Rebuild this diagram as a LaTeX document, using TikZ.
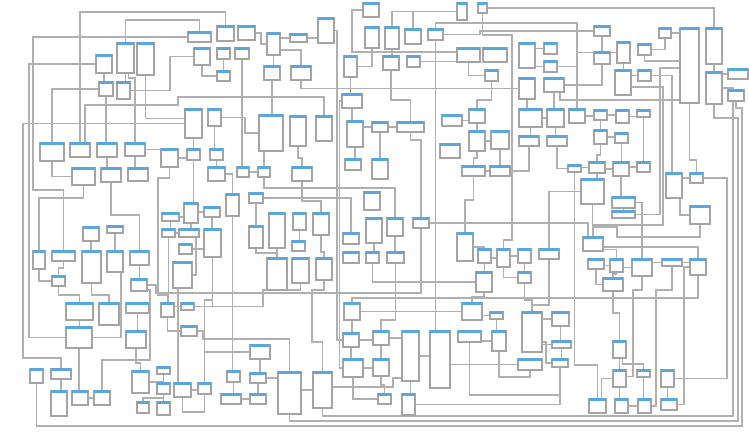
\documentclass[tikz,border=0pt]{standalone}
\usetikzlibrary{calc}
\definecolor{hdrblue}{HTML}{5AA6DE}
\definecolor{boxgray}{HTML}{A4A4A4}
\definecolor{linegray}{HTML}{B0B0B0}
\pgfdeclarelayer{bg}
\pgfsetlayers{bg,main}
\tikzset{
  bx/.style={draw=boxgray, line width=1.3pt, fill=white, inner sep=0pt, outer sep=0pt},
  hdr/.style={fill=hdrblue},
  cn/.style={draw=linegray, line width=1.3pt},
}
\newcommand\mybox[4]{%
  \node[bx, minimum width=#3pt, minimum height=#4pt] (b#1y#2) at ({#1+#3/2},{#2+#4/2}) {};
  \fill[hdr] ([yshift=0.7pt]b#1y#2.north west) rectangle ([yshift=-2.3pt]b#1y#2.north east);}
\begin{document}
\begin{tikzpicture}[x=1pt,y=-1pt]
\useasboundingbox (0,0) rectangle (749,433);
% ---------- boxes ----------
\mybox{188}{32}{23}{10}
\mybox{217}{26}{17}{15}
\mybox{238}{26}{17}{14}
\mybox{117}{43}{17}{30}
\mybox{137}{43}{17}{32}
\mybox{96}{55}{16}{18}
\mybox{194}{48}{16}{17}
\mybox{217}{48}{13}{11}
\mybox{235}{48}{14}{11}
\mybox{217}{71}{13}{10}
\mybox{99}{82}{14}{14}
\mybox{117}{82}{13}{17}
\mybox{185}{109}{17}{29}
\mybox{208}{109}{13}{17}
\mybox{40}{143}{24}{18}
\mybox{70}{143}{20}{14}
\mybox{97}{143}{20}{14}
\mybox{125}{143}{20}{13}
\mybox{161}{149}{17}{18}
\mybox{187}{149}{13}{11}
\mybox{210}{149}{13}{11}
\mybox{72}{168}{23}{17}
\mybox{101}{168}{20}{14}
\mybox{128}{168}{20}{13}
\mybox{208}{167}{17}{14}
\mybox{237}{167}{12}{10}
\mybox{258}{167}{12}{10}
\mybox{292}{167}{20}{14}
\mybox{267}{33}{13}{22}
\mybox{290}{34}{17}{8}
\mybox{318}{18}{16}{25}
\mybox{264}{66}{16}{14}
\mybox{291}{66}{20}{14}
\mybox{363}{3}{16}{14}
\mybox{457}{3}{10}{17}
\mybox{478}{3}{9}{10}
\mybox{365}{27}{14}{21}
\mybox{385}{27}{14}{22}
\mybox{405}{29}{16}{15}
\mybox{428}{29}{15}{11}
\mybox{457}{48}{23}{14}
\mybox{483}{48}{24}{14}
\mybox{485}{70}{13}{11}
\mybox{344}{56}{13}{21}
\mybox{383}{56}{16}{14}
\mybox{407}{56}{13}{11}
\mybox{342}{94}{20}{14}
\mybox{259}{115}{24}{36}
\mybox{290}{116}{16}{30}
\mybox{316}{116}{16}{25}
\mybox{347}{121}{16}{26}
\mybox{372}{122}{16}{10}
\mybox{397}{122}{27}{10}
\mybox{442}{115}{20}{11}
\mybox{469}{109}{16}{14}
\mybox{469}{131}{16}{20}
\mybox{491}{131}{18}{18}
\mybox{440}{144}{20}{14}
\mybox{345}{159}{16}{11}
\mybox{372}{159}{16}{20}
\mybox{462}{166}{23}{10}
\mybox{490}{166}{20}{10}
\mybox{519}{43}{16}{25}
\mybox{544}{43}{13}{11}
\mybox{544}{61}{13}{11}
\mybox{594}{26}{16}{10}
\mybox{594}{52}{16}{12}
\mybox{617}{42}{13}{21}
\mybox{638}{44}{13}{11}
\mybox{659}{28}{12}{10}
\mybox{680}{28}{19}{75}
\mybox{706}{28}{16}{36}
\mybox{706}{72}{16}{32}
\mybox{728}{69}{20}{10}
\mybox{728}{90}{16}{11}
\mybox{519}{78}{16}{21}
\mybox{544}{78}{20}{14}
\mybox{615}{70}{16}{25}
\mybox{638}{70}{13}{11}
\mybox{519}{109}{23}{18}
\mybox{547}{109}{17}{18}
\mybox{569}{109}{16}{14}
\mybox{594}{110}{13}{10}
\mybox{616}{110}{13}{13}
\mybox{637}{110}{13}{7}
\mybox{594}{130}{13}{14}
\mybox{615}{133}{13}{10}
\mybox{519}{136}{20}{10}
\mybox{547}{136}{20}{10}
\mybox{568}{165}{13}{7}
\mybox{589}{162}{16}{11}
\mybox{613}{162}{16}{14}
\mybox{637}{162}{13}{10}
\mybox{581}{179}{23}{25}
\mybox{612}{197}{23}{11}
\mybox{612}{211}{23}{7}
\mybox{666}{173}{16}{25}
\mybox{690}{173}{13}{10}
\mybox{690}{206}{20}{18}
\mybox{583}{237}{20}{14}
\mybox{588}{259}{16}{10}
\mybox{610}{259}{13}{13}
\mybox{632}{259}{20}{17}
\mybox{662}{259}{20}{7}
\mybox{690}{259}{16}{16}
\mybox{603}{278}{20}{13}
\mybox{184}{203}{14}{20}
\mybox{204}{207}{16}{10}
\mybox{162}{213}{17}{8}
\mybox{162}{229}{13}{8}
\mybox{179}{229}{20}{8}
\mybox{204}{229}{17}{28}
\mybox{179}{244}{13}{10}
\mybox{173}{262}{19}{26}
\mybox{226}{194}{13}{22}
\mybox{83}{227}{16}{14}
\mybox{107}{226}{16}{7}
\mybox{249}{193}{14}{10}
\mybox{249}{226}{14}{22}
\mybox{269}{213}{16}{35}
\mybox{293}{213}{13}{17}
\mybox{313}{213}{16}{22}
\mybox{292}{241}{13}{10}
\mybox{267}{258}{20}{32}
\mybox{292}{258}{17}{25}
\mybox{316}{258}{16}{22}
\mybox{364}{192}{16}{18}
\mybox{343}{233}{16}{11}
\mybox{366}{218}{16}{25}
\mybox{387}{218}{16}{18}
\mybox{413}{218}{16}{10}
\mybox{343}{252}{16}{11}
\mybox{366}{252}{13}{11}
\mybox{387}{252}{17}{11}
\mybox{457}{233}{16}{28}
\mybox{478}{249}{13}{14}
\mybox{497}{249}{13}{18}
\mybox{518}{249}{13}{14}
\mybox{539}{249}{20}{10}
\mybox{476}{272}{16}{20}
\mybox{518}{272}{13}{11}
\mybox{33}{251}{12}{18}
\mybox{52}{251}{23}{10}
\mybox{82}{251}{19}{32}
\mybox{107}{251}{16}{21}
\mybox{130}{251}{19}{14}
\mybox{52}{276}{13}{10}
\mybox{131}{279}{16}{12}
\mybox{66}{303}{27}{17}
\mybox{99}{303}{20}{22}
\mybox{126}{303}{23}{10}
\mybox{161}{303}{13}{14}
\mybox{181}{303}{13}{7}
\mybox{181}{326}{16}{10}
\mybox{66}{327}{26}{21}
\mybox{126}{331}{20}{17}
\mybox{30}{369}{13}{14}
\mybox{51}{369}{20}{10}
\mybox{132}{371}{17}{22}
\mybox{157}{367}{13}{7}
\mybox{157}{383}{13}{11}
\mybox{174}{383}{17}{14}
\mybox{198}{383}{13}{11}
\mybox{227}{371}{13}{11}
\mybox{221}{394}{20}{10}
\mybox{51}{391}{16}{25}
\mybox{72}{391}{16}{14}
\mybox{94}{391}{16}{14}
\mybox{137}{402}{12}{11}
\mybox{157}{402}{13}{13}
\mybox{250}{345}{20}{14}
\mybox{250}{373}{16}{10}
\mybox{250}{394}{16}{10}
\mybox{278}{372}{23}{42}
\mybox{313}{372}{19}{36}
\mybox{344}{303}{16}{17}
\mybox{343}{333}{16}{14}
\mybox{343}{359}{20}{18}
\mybox{373}{331}{16}{14}
\mybox{373}{359}{16}{17}
\mybox{402}{331}{17}{50}
\mybox{430}{331}{20}{57}
\mybox{458}{331}{23}{11}
\mybox{462}{303}{20}{17}
\mybox{490}{312}{13}{7}
\mybox{492}{331}{14}{20}
\mybox{378}{394}{13}{10}
\mybox{402}{394}{13}{21}
\mybox{522}{312}{20}{40}
\mybox{552}{312}{17}{14}
\mybox{552}{341}{19}{7}
\mybox{518}{359}{24}{11}
\mybox{552}{359}{16}{8}
\mybox{613}{341}{13}{17}
\mybox{613}{370}{13}{17}
\mybox{637}{370}{13}{7}
\mybox{661}{370}{13}{17}
\mybox{589}{399}{17}{14}
\mybox{615}{399}{13}{14}
\mybox{638}{399}{13}{14}
\mybox{661}{399}{16}{11}
% ---------- connectors ----------
\begin{pgfonlayer}{bg}
\fill[white] (0,0) rectangle (749,433);
\draw[cn] (b70y143.north) -- (80,12) -- (225.5,12) -- (b217y26.north);
\draw[cn] (b117y43.north) -- ++(0,-23) -| (b188y32.north);
\draw[cn] (b188y32.west) -| (33,190) -| (b52y251.north);
\draw[cn] (b96y55.west) -| ([xshift=-37pt]b66y327.west) -- (b66y327.west);
\draw[cn] (b40y143.north) |- (b99y82.west);
\draw[cn] ([xshift=5pt]b70y143.north) -- (85,105) -- (178,105) -- (178,97) -- (324,97) -- (b316y116.north);
\draw[cn] (b117y82.east) -- (170,90.5) |- (b194y48.west);
\draw[cn] ([xshift=3pt]b117y43.south) -- (128.5,78) -- (135,78) -- (b125y143.north);
\draw[cn] (b137y43.south) |- ([yshift=5pt]b185y109.west);
\draw[cn] (b51y369.north) -- (61,358) -- (23,358) -- (23,123.5) -- (b185y109.west);
\draw[cn] (b125y143.east) -- (b161y149.west |- b125y143.east);
\draw[cn] (b217y48.south) -- (b217y71.north);
\draw[cn] (b194y48.south) |- (b217y71.west);
\draw[cn] (b235y48.south) -- (b235y48.south |- b237y167.north);
\draw[cn] (b97y143.south) -- (b97y143.south |- b101y168.north);
\draw[cn] (b238y26.east) -- (261,33) -- (261,44) -- (b267y33.west);
\draw[cn] (b267y33.east |- b290y34.west) -- (b290y34.west);
\draw[cn] (b290y34.east) -- (b318y18.west |- b290y34.east);
\draw[cn] (b318y18.east) -| (337,340) -- (b343y333.west);
\draw[cn] (b267y33.south) -- (b267y33.south |- b264y66.north);
\draw[cn] ([yshift=-6pt]b267y33.east) -| (b291y66.north);
\draw[cn] (b291y66.south) |- (b519y78.west);
\draw[cn] (b363y3.west) -| (352,52) -- ([yshift=3pt]b457y48.west);
\draw[cn] (b385y27.north) |- (b457y3.west);
\draw[cn] (b405y29.north) |- (b457y3.west);
\draw[cn] (b385y27.south) -- (b385y27.south |- b383y56.north);
\draw[cn] (b478y3.east) -| (b706y28.north);
\draw[cn] (b428y29.north) |- (577,23) -- (b569y109.north);
\draw[cn] (b428y29.east) -- (480,34.5) |- (b594y26.west);
\draw[cn] (b519y43.east |- b544y43.west) -- (b544y43.west);
\draw[cn] (b519y43.east |- b544y61.west) -- (b544y61.west);
\draw[cn] (b544y61.east) -| (b569y109.north);
\draw[cn] (b617y42.west) -| (b569y109.north);
\draw[cn] (b594y52.south) |- (b544y78.east);
\draw[cn] (b638y44.south) |- ([yshift=4.5pt]b680y28.west);
\draw[cn] (b659y28.east) -- (b680y28.west |- b659y28.east);
\draw[cn] (b615y70.east |- b638y70.west) -- (b638y70.west);
\draw[cn] (b638y70.east) -| ([xshift=-2pt]b666y173.north);
\draw[cn] (b544y78.south) -- (b544y78.south |- b547y109.north);
\draw[cn] ([xshift=6pt]b544y78.south) |- ([yshift=-34.5pt]b680y28.west);
\draw[cn] (b519y78.south) -- (b519y78.south |- b519y109.north);
\draw[cn] (b519y109.south) -- (b519y109.south |- b519y136.north);
\draw[cn] (b594y110.east) -- (b616y110.west |- b594y110.east);
\draw[cn] (b616y110.east) -- (b637y110.west |- b616y110.east);
\draw[cn] (b594y110.south) -- (b594y110.south |- b594y130.north);
\draw[cn] ([yshift=-2.5pt]b680y28.west) -| (660,214.5) -- (b612y211.east);
\draw[cn] ([yshift=-4.5pt]b615y70.east) -| (663,225) -| (b583y237.north);
\draw[cn] (b706y72.south) -- (714,118) -- (738,118) -- (738,421) -- (289.5,421) -- (b278y372.south);
\draw[cn] (b30y369.south) -- (36.5,426) -- (742,426) -- (742,108) -- (736,108) -- (b728y90.south);
\draw[cn] (b313y372.south) -- (322.5,416) -- (733,416) -- (733,88) -- (b706y72.east);
\draw[cn] (b568y165.east |- b589y162.west) -- (b589y162.west);
\draw[cn] (b589y162.south) -- (b589y162.south |- b581y179.north);
\draw[cn] (b613y162.east |- b637y162.west) -- (b637y162.west);
\draw[cn] (b613y162.south) -- (b613y162.south |- b612y197.north);
\draw[cn] (b581y179.south) |- (617,227) |- (700,237) -- (b690y206.south);
\draw[cn] (b612y197.east) -| (b632y259.north);
\draw[cn] ([xshift=6pt]b666y173.south) |- (b690y206.west);
\draw[cn] (b690y173.east) -| (727,378.5) -- (b661y370.east);
\draw[cn] ([yshift=-3pt]b583y237.east) -| (b690y259.north);
\draw[cn] ([yshift=-5.5pt]b583y237.east) -| (b610y259.north);
\draw[cn] (b588y259.east |- b610y259.west) -- (b610y259.west);
\draw[cn] (b539y249.south) |- (532,305) -- (b522y312.north);
\draw[cn] (b518y249.south) -- (b518y249.south |- b518y272.north);
\draw[cn] (b40y143.south) |- (b72y168.west);
\draw[cn] (b72y168.south) -- (83.5,198) -- (39,198) -- (b33y251.north);
\draw[cn] (b101y168.south) |- (139.5,215) -- (b130y251.north);
\draw[cn] (b107y226.south) -- (b107y226.south |- b107y251.north);
\draw[cn] (b33y251.south) |- (b52y276.west);
\draw[cn] (b131y279.south) -- (139,290) -- (150,290) -- (150,360) -- (102,360) -- (b94y391.north);
\draw[cn] (b161y149.south) -- (169.5,178) -- (158,178) -- (158,295) -- (167.5,295) -- (b161y303.north);
\draw[cn] (b184y203.south) -- (b184y203.south |- b179y229.north);
\draw[cn] (b204y207.south) -- (b204y207.south |- b204y229.north);
\draw[cn] ([xshift=7pt]b179y229.south) |- (b173y262.east);
\draw[cn] (b179y244.east) -- (b204y229.west |- b179y244.east);
\draw[cn] (b204y229.south) |- (b181y303.east);
\draw[cn] (b204y229.south) -- (212.5,300) -- (204.5,300) -- (b198y383.north);
\draw[cn] (b66y327.south) -- (b66y327.south |- b72y391.north);
\draw[cn] (b82y251.south) |- (109,295) -- (b99y303.north);
\draw[cn] ([xshift=6pt]b107y251.south) |- (b66y327.east);
\draw[cn] (b161y303.south) |- (b181y326.west);
\draw[cn] (b161y303.east |- b181y303.west) -- (b181y303.west);
\draw[cn] (b157y383.south) |- (143,398) -- (b137y402.north);
\draw[cn] (b157y383.south) -- (b157y383.south |- b157y402.north);
\draw[cn] (b174y383.south) |- (204.5,412) -- (b198y383.south);
\draw[cn] (b227y371.south) -- (b227y371.south |- b221y394.north);
\draw[cn] ([xshift=-4.5pt]b173y262.south) -- ([xshift=-4.5pt]b174y383.north);
\draw[cn] (b181y326.east) -- (203,331) |- (289.5,339) -- (b278y372.north);
\draw[cn] (b250y345.south) -- (b250y345.south |- b250y373.north);
\draw[cn] (b250y373.east) -- (b278y372.west |- b250y373.east);
\draw[cn] (b250y373.south) -- (b250y373.south |- b250y394.north);
\draw[cn] (b316y258.south) -- (324,290) -- (312,290) -- (312,342) -- (322.5,342) -- (b313y372.north);
\draw[cn] ([yshift=3pt]b313y372.east) -| (393,378) -- ([yshift=-22pt]b402y331.west);
\draw[cn] (b344y303.east) -- (b462y303.west |- b344y303.east);
\draw[cn] (b373y331.south) -- (b373y331.south |- b373y359.north);
\draw[cn] (b373y359.south) -- (381,385) -- (384.5,385) -- (b378y394.north);
\draw[cn] (b402y331.south) -- (b402y331.south |- b402y394.north);
\draw[cn] (b402y394.east) -| (b552y359.south);
\draw[cn] (b428y29.south) -- ([xshift=-4.5pt]b430y331.north);
\draw[cn] ([yshift=-5pt]b430y331.east) -- (b518y359.west);
\draw[cn] (b458y331.south) |- (560,395) -- (b552y359.south);
\draw[cn] (b568y165.south) -- (574.5,365) -- (597.5,365) -- (b589y399.north);
\draw[cn] (b603y278.south) -- (613,313) -- (619.5,313) -- (b613y341.north);
\draw[cn] (b613y341.south) -- (b613y341.south |- b613y370.north);
\draw[cn] ([xshift=3pt]b613y341.south) |- (643.5,364) -- (b637y370.north);
\draw[cn] (b613y370.south) -- (b613y370.south |- b615y399.north);
\draw[cn] (b613y370.west) -| ([xshift=4pt]b589y399.north);
\draw[cn] ([yshift=2pt]b613y370.east) -| (633,290) -| (b632y259.south);
\draw[cn] (b615y399.east |- b638y399.west) -- (b638y399.west);
\draw[cn] (b637y370.south) -- (b637y370.south |- b638y399.north);
\draw[cn] (b661y370.south) -- (b661y370.south |- b661y399.north);
\draw[cn] (b661y399.east) -| (684,267) -- (b690y259.west);
\draw[cn] (b638y399.east) -| (656,290) -| (b662y259.south);
\draw[cn] (b249y193.east) -| (b343y233.north);
\draw[cn] (b258y167.south) |- (395,188) -- (b387y218.north);
\draw[cn] (b342y94.west) -- (339.5,101) |- (b343y359.west);
\draw[cn] (b397y122.south) -- (410.5,140) -- (421,140) -- (b413y218.north);
\draw[cn] (b413y218.east) -| ([xshift=-5pt]b583y237.north);
\draw[cn] (b478y249.south) -- (b478y249.south |- b476y272.north);
\draw[cn] (b366y218.south) -- (b366y218.south |- b366y252.north);
\draw[cn] (b387y218.south) -- (b387y218.south |- b387y252.north);
\draw[cn] (b249y226.south) -- (256,253) -| (b267y258.north);
\draw[cn] (b269y213.south) -- (b269y213.south |- b267y258.north);
\draw[cn] (b293y213.south) -- (b293y213.south |- b292y241.north);
\draw[cn] (b313y213.south) -- (321,252) -- (324,252) -- (b316y258.north);
\draw[cn] (b208y167.east) -| (b226y194.north);
\draw[cn] (b226y194.south) -- (b226y194.south |- b227y371.north);
\draw[cn] (b457y48.south) |- (b485y70.west);
\draw[cn] (b485y70.south) -- (491.5,100) -| (b469y109.north);
\draw[cn] (b478y3.south) |- (512,35) -- (512,240) -| (b497y249.north);
\draw[cn] (b680y28.south) -- (689.5,160) -| (b690y173.north);
\draw[cn] (b292y167.south) -- (302,201) -| (b313y213.north);
\draw[cn] ([xshift=-7pt]b259y115.south) -- ([xshift=-7pt]b259y115.south |- b258y167.north);
\draw[cn] (b290y116.south) -- (298,158) -- (302,158) -- (b292y167.north);
\draw[cn] (b347y121.south) -- (b347y121.south |- b345y159.north);
\draw[cn] (b372y122.south) -- (b372y122.south |- b372y159.north);
\draw[cn] (b342y94.south) -- (b342y94.south |- b347y121.north);
\draw[cn] (b344y56.south) -- (b344y56.south |- b342y94.north);
\draw[cn] (b347y121.east |- b372y122.west) -- (b372y122.west);
\draw[cn] (b372y122.east |- b397y122.west) -- (b397y122.west);
\draw[cn] (b383y56.south) -- (391,100) -| (b397y122.north);
\draw[cn] (b407y56.east) -- (b457y48.west |- b407y56.east);
\draw[cn] (b365y27.south) |- (b344y56.east);
\draw[cn] (b442y115.east) -- (b469y109.west |- b442y115.east);
\draw[cn] (b469y109.south) -- (b469y109.south |- b469y131.north);
\draw[cn] (b469y131.east) -- (b491y131.west |- b469y131.east);
\draw[cn] (b491y131.south) -- (b491y131.south |- b490y166.north);
\draw[cn] (b462y166.east) -- (b490y166.west);
\draw[cn] (b469y131.south) -- (477,158) -- (473.5,158) -- (b462y166.north);
\draw[cn] (b462y166.south) -- (473.5,200) -| (b457y233.north);
\draw[cn] (b547y109.south) -- (b547y109.south |- b547y136.north);
\draw[cn] (b519y109.east) -- (b547y109.west |- b519y109.east);
\draw[cn] (b569y109.east) -- (b594y110.west |- b569y109.east);
\draw[cn] (b594y130.east) -- (b615y133.west |- b594y130.east);
\draw[cn] (b519y136.south) |- (b490y166.east);
\draw[cn] (b547y136.south) |- (b568y165.west);
\draw[cn] (b594y130.south) -- (600.5,155) -| (b589y162.north);
\draw[cn] (b615y133.south) -- (b615y133.south |- b613y162.north);
\draw[cn] (b637y110.south) -- (b637y110.south |- b637y162.north);
\draw[cn] (b594y26.south) -- (b594y26.south |- b594y52.north);
\draw[cn] (b617y42.south) -- (b617y42.south |- b615y70.north);
\draw[cn] (b638y44.east) -| (b659y28.south);
\draw[cn] (b706y28.south) -- (b706y28.south |- b706y72.north);
\draw[cn] (b728y69.west) -- (b706y72.east |- b728y69.west);
\draw[cn] (b125y143.south) -- (b125y143.south |- b128y168.north);
\draw[cn] (b83y227.south) -- (b83y227.south |- b82y251.north);
\draw[cn] (b52y251.south) -- (63.5,268) -- (58.5,268) -- (b52y276.north);
\draw[cn] (b130y251.south) -- (b130y251.south |- b131y279.north);
\draw[cn] (b52y276.south) -- (58.5,295) -| (b66y303.north);
\draw[cn] (b66y303.south) -- (b66y303.south |- b66y327.north);
\draw[cn] (b126y303.south) -- (b126y303.south |- b126y331.north);
\draw[cn] (b126y331.south) -- (136,363) -| (b132y371.north);
\draw[cn] (b51y369.south) -- (b51y369.south |- b51y391.north);
\draw[cn] (b72y391.east) -- (b94y391.west |- b72y391.east);
\draw[cn] (b132y371.east) -| (b157y367.south);
\draw[cn] (b157y367.south) -- (b157y367.south |- b157y383.north);
\draw[cn] (b174y383.east) -- (b198y383.west |- b174y383.east);
\draw[cn] (b162y213.east) -- (b184y203.west |- b162y213.east);
\draw[cn] (b162y229.east) -- (b179y229.west |- b162y229.east);
\draw[cn] (b162y213.south) -- (b162y213.south |- b162y229.north);
\draw[cn] (b204y207.west) -- (b184y203.east |- b204y207.west);
\draw[cn] (b162y229.south) -- (b162y229.south |- b161y303.north);
\draw[cn] (b187y149.south) -- (b187y149.south |- b184y203.north);
\draw[cn] (b210y149.south) -- (b210y149.south |- b208y167.north);
\draw[cn] (b161y149.east) -- (b187y149.west |- b161y149.east);
\draw[cn] (b185y109.south) -- (b185y109.south |- b187y149.north);
\draw[cn] (b208y109.south) -- (b208y109.south |- b210y149.north);
\draw[cn] (b208y109.east) -- (245,117.5) |- (b259y115.west);
\draw[cn] (b237y167.east) -- (b258y167.west |- b237y167.east);
\draw[cn] (b249y193.south) -- (b249y193.south |- b249y226.north);
\draw[cn] (b264y66.south) -- (b264y66.south |- b259y115.north);
\draw[cn] (b99y82.south) -- (b99y82.south |- b97y143.north);
\draw[cn] (b96y55.south) -- (b96y55.south |- b99y82.north);
\draw[cn] (b117y43.south) -- (b117y43.south |- b117y82.north);
\draw[cn] (b589y162.east |- b613y162.west) -- (b613y162.west);
\draw[cn] (b612y197.south) -- (b612y197.south |- b612y211.north);
\draw[cn] (b666y173.east |- b690y173.west) -- (b690y173.west);
\draw[cn] (b632y259.east |- b662y259.west) -- (b662y259.west);
\draw[cn] (b610y259.east |- b632y259.west) -- (b632y259.west);
\draw[cn] (b610y259.south) -- (616.5,274) -| (b603y278.north);
\draw[cn] (b662y259.east) -- (b690y259.west |- b662y259.east);
\draw[cn] (b603y278.west) -| (b588y259.south);
\draw[cn] (b581y179.west) -| (b539y249.north);
\draw[cn] (b497y249.east |- b518y249.west) -- (b518y249.west);
\draw[cn] (b478y249.east |- b497y249.west) -- (b497y249.west);
\draw[cn] (b457y233.east) -| (b478y249.north);
\draw[cn] (b476y272.south) -- (484,297) -| (b462y303.north);
\draw[cn] (b518y272.south) -- (524.5,300) -| (b522y312.north);
\draw[cn] (b518y272.west) -| (b497y249.south);
\draw[cn] (b490y312.south) -- (b490y312.south |- b492y331.north);
\draw[cn] (b490y312.west) -- (b462y303.east |- b490y312.west);
\draw[cn] (b458y331.east |- b492y331.west) -- (b492y331.west);
\draw[cn] (b552y312.south) -- (b552y312.south |- b552y341.north);
\draw[cn] (b552y341.south) -- (b552y341.south |- b552y359.north);
\draw[cn] (b522y312.east |- b552y341.west) -- (b552y341.west);
\draw[cn] ([yshift=-10pt]b522y312.east) -| (546,363) -- (b552y359.west);
\draw[cn] (b552y312.west) -- (b522y312.east |- b552y312.west);
\draw[cn] (b518y359.south) -- (530,377) -| (b492y331.south);
\draw[cn] (b343y333.south) -- (b343y333.south |- b343y359.north);
\draw[cn] (b343y333.east) -- (b373y331.west |- b343y333.east);
\draw[cn] (b344y303.south) -- (b344y303.south |- b343y333.north);
\draw[cn] (b343y359.east) -- (b373y359.west |- b343y359.east);
\draw[cn] (b373y331.east) -- (b402y331.west |- b373y331.east);
\draw[cn] (b402y331.east) -- (b430y331.west |- b402y331.east);
\draw[cn] (b343y359.south) |- (b378y394.west);
\draw[cn] (b344y303.north) -- ++(0,-5) -| (b690y259.south);
\draw[cn] (b181y303.east) -- (263,306.5) -- (263,290) -| (b292y258.south);
\draw[cn] (b198y383.north) |- (b250y345.west);
\draw[cn] (b221y394.east) -- (b250y394.west |- b221y394.east);
\draw[cn] (b278y372.east |- b313y372.west) -- (b313y372.west);
\draw[cn] (b366y252.south) |- (b476y272.west);
\draw[cn] (b387y252.south) -- (395.5,320) -| (b373y331.north);
\draw[cn] (b131y279.east) -- (156,285) |- (421,293) -- (b413y218.south);
\end{pgfonlayer}
\end{tikzpicture}
\end{document}
